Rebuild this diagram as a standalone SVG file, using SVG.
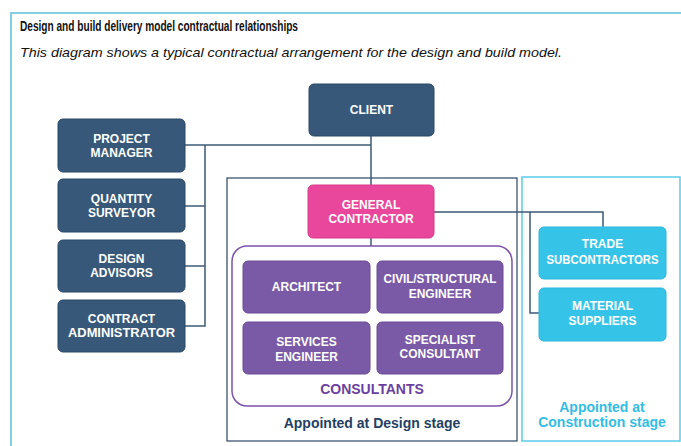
<svg xmlns="http://www.w3.org/2000/svg" width="681" height="446" viewBox="0 0 681 446">
<style>
.t{font-family:"Liberation Sans",Arial,sans-serif;font-weight:bold;font-size:12px;fill:#ffffff;text-anchor:middle}
.dk{fill:#375878;stroke:#2a4866;stroke-width:1}
.pu{fill:#7a5aa6;stroke:#6a4a96;stroke-width:1}
.cy{fill:#35c4e8;stroke:#2cb6da;stroke-width:1}
.pk{fill:#e9479b;stroke:#d63a8a;stroke-width:1}
.ln{fill:none;stroke:#3d5a78;stroke-width:1.5}
</style>
<rect width="681" height="446" fill="#ffffff"/>
<rect x="11" y="13" width="700" height="460" fill="none" stroke="#5bbfd9" stroke-width="1.5"/>
<text x="20" y="31" font-family="Liberation Sans,Arial,sans-serif" font-weight="bold" font-size="14" fill="#111" textLength="278" lengthAdjust="spacingAndGlyphs">Design and build delivery model contractual relationships</text>
<text x="20" y="57" font-family="Liberation Sans,Arial,sans-serif" font-style="italic" font-size="13.5" fill="#111" textLength="542" lengthAdjust="spacingAndGlyphs">This diagram shows a typical contractual arrangement for the design and build model.</text>

<g id="stage-design">
<rect x="227" y="178" width="290" height="263" fill="none" stroke="#2d4565" stroke-width="1.2"/>
<text x="372" y="428" font-family="Liberation Sans,Arial,sans-serif" font-weight="bold" font-size="14" fill="#243f63" text-anchor="middle">Appointed at Design stage</text>
</g>
<g id="stage-construction">
<rect x="522" y="177" width="158" height="264" fill="none" stroke="#5bcbe8" stroke-width="1.5"/>
<text x="602" y="412" font-family="Liberation Sans,Arial,sans-serif" font-weight="bold" font-size="14" fill="#33bde4" text-anchor="middle">Appointed at</text>
<text x="602" y="427" font-family="Liberation Sans,Arial,sans-serif" font-weight="bold" font-size="14" fill="#33bde4" text-anchor="middle">Construction stage</text>
</g>

<g id="connectors">
<path class="ln" d="M371,136 V185"/>
<path class="ln" d="M371,145 H185"/>
<path class="ln" d="M205,145 V326 H185"/>
<path class="ln" d="M205,206 H185"/>
<path class="ln" d="M205,266 H185"/>
<path class="ln" d="M371,238 V246"/>
<path class="ln" d="M434,212 H603 V227"/>
<path class="ln" d="M530,212 V313 H539"/>
</g>

<g id="consultants">
<rect x="232" y="246" width="280" height="160" rx="15" fill="none" stroke="#7b52ab" stroke-width="1.5"/>
<text x="372" y="394" font-family="Liberation Sans,Arial,sans-serif" font-weight="bold" font-size="14" fill="#6b3fa0" text-anchor="middle">CONSULTANTS</text>
</g>

<g id="client"><rect class="dk" x="309" y="84" width="125" height="52" rx="5"/><text class="t" x="371.5" y="114">CLIENT</text></g>
<g id="project-manager"><rect class="dk" x="58" y="119" width="127" height="53" rx="5"/><text class="t" x="121.5" y="143">PROJECT</text><text class="t" x="121.5" y="157">MANAGER</text></g>
<g id="quantity-surveyor"><rect class="dk" x="58" y="179" width="127" height="53" rx="5"/><text class="t" x="121.5" y="203">QUANTITY</text><text class="t" x="121.5" y="217">SURVEYOR</text></g>
<g id="design-advisors"><rect class="dk" x="58" y="240" width="127" height="52" rx="5"/><text class="t" x="121.5" y="263">DESIGN</text><text class="t" x="121.5" y="277">ADVISORS</text></g>
<g id="contract-administrator"><rect class="dk" x="58" y="300" width="127" height="52" rx="5"/><text class="t" x="121.5" y="323">CONTRACT</text><text class="t" x="121.5" y="337" textLength="107" lengthAdjust="spacingAndGlyphs">ADMINISTRATOR</text></g>
<g id="general-contractor"><rect class="pk" x="308" y="185" width="126" height="53" rx="5"/><text class="t" x="371" y="209">GENERAL</text><text class="t" x="371" y="223">CONTRACTOR</text></g>
<g id="architect"><rect class="pu" x="243" y="261" width="127" height="52" rx="5"/><text class="t" x="306.5" y="291">ARCHITECT</text></g>
<g id="civil-structural-engineer"><rect class="pu" x="377" y="261" width="126" height="52" rx="5"/><text class="t" x="440" y="283" textLength="113" lengthAdjust="spacingAndGlyphs">CIVIL/STRUCTURAL</text><text class="t" x="440" y="298">ENGINEER</text></g>
<g id="services-engineer"><rect class="pu" x="243" y="322" width="127" height="52" rx="5"/><text class="t" x="306.5" y="346">SERVICES</text><text class="t" x="306.5" y="361">ENGINEER</text></g>
<g id="specialist-consultant"><rect class="pu" x="377" y="322" width="126" height="52" rx="5"/><text class="t" x="440" y="344">SPECIALIST</text><text class="t" x="440" y="358">CONSULTANT</text></g>
<g id="trade-subcontractors"><rect class="cy" x="539" y="227" width="127" height="52" rx="5"/><text class="t" x="602.5" y="248">TRADE</text><text class="t" x="602.5" y="264" textLength="112" lengthAdjust="spacingAndGlyphs">SUBCONTRACTORS</text></g>
<g id="material-suppliers"><rect class="cy" x="539" y="288" width="127" height="53" rx="5"/><text class="t" x="602.5" y="310">MATERIAL</text><text class="t" x="602.5" y="325">SUPPLIERS</text></g>
</svg>
